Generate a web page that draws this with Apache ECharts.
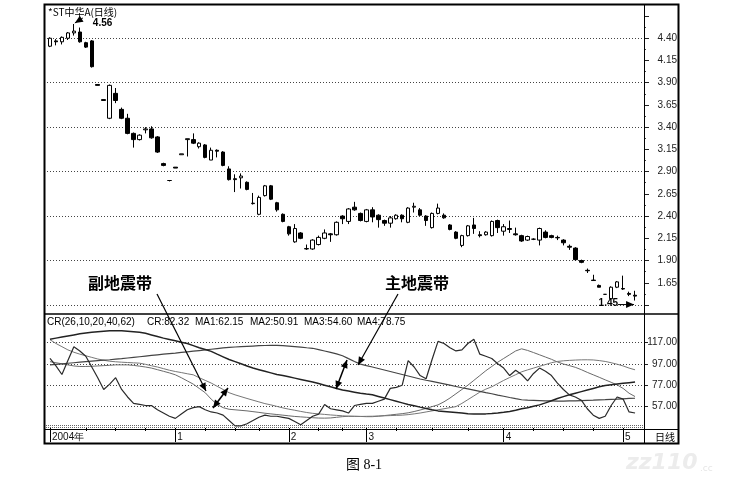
<!DOCTYPE html>
<html>
<head>
<meta charset="utf-8">
<script src="https://cdn.jsdelivr.net/npm/echarts@6/dist/echarts.min.js"></script>
<style>
html, body { margin: 0; padding: 0; background: #fff; }
#chart { width: 754px; height: 483px; }
</style>
</head>
<body>
<div id="chart"></div>
<script>
// *ST中华A 日线 + CR 指标

// 每日开盘、收盘、最低、最高（共 99 个交易日）
var openPrice = [4.31,4.37,4.36,4.40,4.46,4.47,4.35,4.37,3.88,3.71,
	3.50,3.78,3.60,3.50,3.33,3.26,3.37,3.38,3.29,2.99,
	2.80,2.95,3.09,3.26,3.26,3.18,3.20,3.03,3.14,3.12,
	2.93,2.82,2.83,2.78,2.54,2.42,2.63,2.74,2.55,2.42,
	2.28,2.11,2.21,2.03,2.03,2.08,2.15,2.20,2.19,2.40,
	2.34,2.50,2.43,2.34,2.47,2.41,2.35,2.32,2.37,2.41,
	2.33,2.50,2.47,2.40,2.27,2.43,2.41,2.30,2.22,2.07,
	2.18,2.30,2.19,2.19,2.18,2.35,2.23,2.26,2.20,2.18,
	2.13,2.14,2.13,2.22,2.18,2.16,2.13,2.06,2.04,1.90,
	1.79,1.68,1.62,1.52,1.47,1.60,1.585,1.53,1.51];
var closePrice = [4.40,4.36,4.41,4.46,4.48,4.36,4.30,4.08,3.87,3.70,
	3.87,3.70,3.50,3.33,3.26,3.31,3.38,3.28,3.12,2.97,
	2.80,2.94,3.10,3.27,3.22,3.22,3.06,3.14,3.13,2.97,
	2.81,2.81,2.85,2.70,2.545,2.61,2.74,2.59,2.47,2.34,
	2.20,2.26,2.15,2.035,2.13,2.16,2.21,2.19,2.33,2.37,
	2.48,2.47,2.35,2.47,2.39,2.36,2.32,2.38,2.41,2.37,
	2.49,2.51,2.41,2.35,2.43,2.49,2.38,2.25,2.15,2.18,
	2.29,2.26,2.18,2.22,2.34,2.27,2.28,2.25,2.19,2.12,
	2.17,2.14,2.26,2.16,2.16,2.155,2.10,2.05,1.91,1.88,
	1.785,1.675,1.60,1.52,1.60,1.66,1.58,1.52,1.50];
var lowPrice = [4.30,4.32,4.33,4.38,4.43,4.35,4.29,4.07,3.87,3.70,
	3.49,3.67,3.49,3.32,3.17,3.25,3.33,3.27,3.11,2.96,
	2.79,2.94,3.09,3.07,3.21,3.16,3.05,3.03,3.06,2.96,
	2.80,2.67,2.71,2.69,2.53,2.41,2.62,2.58,2.45,2.33,
	2.18,2.10,2.14,2.02,2.02,2.07,2.14,2.11,2.18,2.31,
	2.31,2.46,2.34,2.33,2.33,2.27,2.29,2.27,2.36,2.33,
	2.32,2.44,2.40,2.29,2.26,2.42,2.37,2.24,2.14,2.05,
	2.17,2.20,2.16,2.18,2.17,2.21,2.18,2.21,2.18,2.11,
	2.12,2.13,2.07,2.15,2.15,2.13,2.07,2.02,1.90,1.87,
	1.76,1.67,1.60,1.52,1.46,1.59,1.57,1.50,1.45];
var highPrice = [4.41,4.39,4.42,4.47,4.56,4.52,4.36,4.38,3.88,3.71,
	3.88,3.84,3.62,3.55,3.34,3.32,3.40,3.41,3.30,3.00,
	2.80,2.95,3.10,3.27,3.33,3.23,3.21,3.17,3.15,3.13,
	2.96,2.87,2.88,2.79,2.66,2.63,2.75,2.75,2.56,2.43,
	2.29,2.31,2.22,2.08,2.14,2.18,2.25,2.21,2.34,2.41,
	2.49,2.56,2.44,2.48,2.50,2.42,2.36,2.40,2.42,2.42,
	2.50,2.55,2.49,2.41,2.44,2.54,2.43,2.31,2.23,2.19,
	2.30,2.38,2.23,2.23,2.35,2.36,2.31,2.35,2.27,2.19,
	2.18,2.15,2.27,2.24,2.19,2.18,2.14,2.08,2.05,1.91,
	1.81,1.74,1.63,1.52,1.61,1.67,1.73,1.55,1.56];

// CR(26,10,20,40,62) 及其四条均线
var crValues = [102,95,87,100,113,109,104,94,84,73,
	78,84,73,66,60,59,58,58,54,51,
	48,46,50,54,56,57,54,52,51,49,
	44,39,39,41,44,47,49,48,48,47,
	46,43,40,44,48,50,59,55,54,53,
	51,58,59,60,60,62,64,74,75,77,
	100,94,86,83,101,118,116,112,109,110,
	116,120,106,104,102,97,93,86,91,87,
	81,88,93,90,86,79,73,68,66,63,
	55,49,46,48,58,66,64,52,51];
var ma1Values = [99,98,97,96,95,94.5,94.5,94.7,95,95.3,
	95.6,96,96,96,95.5,94.8,94,93,91.5,90,
	88.5,86.7,84,81,78,74,70,64,59,56,
	54.5,54,53.5,53,52.3,51.6,50.8,50.2,49.6,49,
	48.4,47.8,47.4,47,46.6,46.3,46.2,46.4,47,47.6,
	48,48,47.8,47.6,47.6,48,48.6,49.2,49.8,50.4,
	51.2,52.4,53.8,55.3,57,58.6,61.5,65,69,73,
	77,81.5,86,90.5,94.5,98.5,102,105.5,109,111,
	109.5,107.5,105.4,103.3,101.2,98.7,96.8,95.3,93.7,91.5,
	89,86.7,84.4,82,79.7,77.3,74,69.5,66.4];
var ma2Values = [119.5,116,113,110,107.8,106,104.5,103,101.5,100.3,
	99.4,98.9,98.5,98.2,97.9,97.6,96.5,95.2,94,92.5,
	91,89.8,88.8,87.7,86.7,84,81.5,79,76,73,
	70,68,66.3,64.6,63,61.4,59.8,58.6,57.2,55.8,
	54.6,53.6,52.5,51.5,50.7,50.2,49.7,49.2,48.8,48.4,
	48,47.8,47.8,47.9,48,48.2,48.4,48.6,48.8,49,
	49.5,50.2,51,52,53,54,55,56,57,60,
	63.5,67,70.5,73.3,75.5,78.5,81.5,84.2,86.8,89.5,
	91.3,93,94.7,96.3,98,99.2,99.8,100.2,100.5,100.7,
	100.75,100.6,100,99.2,98,96.6,95,93,91.4];
var ma3Values = [96,96.5,97,97.5,98,98.5,99,99.5,100,100.4,
	100.8,101.3,101.8,102.4,103,103.6,104.2,104.8,105.4,106,
	106.5,107,107.6,108.2,108.8,109.4,110,110.6,111.2,111.8,
	112.3,112.7,113,113.3,113.6,113.9,114.1,114.2,114.2,114,
	113.6,113.1,112.6,112,111.5,110.3,109,107.7,106.3,104.5,
	101.8,99.2,96.7,95.3,94,92.6,91.2,89.8,88.4,87,
	85.6,84.2,82.8,81.6,80.5,79.4,78.2,77,75.8,74.6,
	73.5,72.4,71.3,70.1,69,67.8,66.7,65.5,64.4,63.4,
	63,62.8,62.6,62.4,62.3,62.2,62.2,62.3,62.4,62.6,
	62.8,63,63.3,63.5,63.8,64,64.3,64.6,64.8];
var ma4Values = [120,121,122,123,124,125,125.8,126.5,127,127.5,
	128,128,127.8,127.4,127,126.5,125.5,124,122.5,121,
	119.8,118.5,117.2,116,114,112,110.3,108.6,106,103.5,
	101,99,97,95,93,91.5,90,88.5,87,86,
	84.8,83.6,82.4,81.2,80,78.5,77,75.5,74,72.5,
	71.5,70.5,69.5,68.7,68,66.5,65,63.5,62,60.5,
	59,57.8,56.5,55.3,54,53,52.5,52,51.5,51,
	50.4,50,50,50.2,50.5,51,51.7,52.5,53.5,55,
	56,57.3,58.6,60.5,62.5,64.5,66.3,68,69.5,71,
	72.5,74,75.5,76.7,77.5,78.2,78.8,79.4,80];

// 时间轴：月份刻度与周刻度（交易日序号）
var monthTickIdx = [0, 21, 40, 53, 76, 96];
var monthTickText = ["2004年", "1", "2", "3", "4", "5"];
var weekTickIdx = [6, 11, 16, 26, 31, 35, 45, 49, 58, 64, 70, 81, 86, 91];

// 指标标题
var crTitle = ["CR(26,10,20,40,62)", "CR:82.32", "MA1:62.15",
	"MA2:50.91", "MA3:54.60", "MA4:78.75"];

var FONT = '"Liberation Sans", Arial, sans-serif';
var CJK = '"Noto Sans CJK SC", sans-serif';

// 类目：99 个交易日 + 右侧留一空位
var categories = [];
for (var i = 0; i < openPrice.length + 1; i++)
	categories.push(String(i));

var candleData = openPrice.map(function (o, i) {
	return [o, closePrice[i], lowPrice[i], highPrice[i]];
});

var dotted = { type: [1, 2], color: "#444", width: 1 };

var chart = echarts.init(document.getElementById("chart"));

var option = {
	backgroundColor: "#fff",
	animation: false,
	grid: [
		{ left: 47, top: 16, width: 597, height: 289 },
		{ left: 47, top: 321, width: 597, height: 107 }
	],
	xAxis: [
		{
			type: "category", gridIndex: 0, data: categories,
			axisLine: { show: false }, axisTick: { show: false },
			axisLabel: { show: false }, splitLine: { show: false }
		},
		{
			type: "category", gridIndex: 1, data: categories, position: "bottom",
			axisLine: { show: false },
			axisTick: {
				show: true, alignWithLabel: true, length: 14,
				interval: function (idx) { return monthTickIdx.indexOf(idx) >= 0; },
				lineStyle: { color: "#000", width: 1 }
			},
			axisLabel: {
				interval: function (idx) { return monthTickIdx.indexOf(idx) >= 0; },
				formatter: function (v, idx) {
					var k = monthTickIdx.indexOf(idx);
					return k >= 0 ? monthTickText[k] : "";
				},
				align: "left", padding: [0, 0, 0, 2], margin: 4,
				fontFamily: FONT, fontSize: 10, color: "#111"
			}
		},
		{
			// 周刻度，与月份轴同在底部
			type: "category", gridIndex: 1, data: categories, position: "bottom",
			axisLine: { show: false },
			axisTick: {
				show: true, alignWithLabel: true, length: 3,
				interval: function (idx) { return weekTickIdx.indexOf(idx) >= 0; },
				lineStyle: { color: "#000", width: 1 }
			},
			axisLabel: { show: false }
		}
	],
	yAxis: [
		{
			type: "value", gridIndex: 0, position: "right",
			min: 1.40, max: 4.65, interval: 0.25,
			axisLine: { show: false },
			axisTick: { show: true, length: 5, lineStyle: { color: "#222" } },
			minorTick: { show: true, splitNumber: 2, length: 2, lineStyle: { color: "#444" } },
			splitLine: { show: false },
			axisLabel: {
				formatter: function (v) { return v.toFixed(2); },
				showMinLabel: false, showMaxLabel: false,
				align: "right", margin: 33,
				fontFamily: FONT, fontSize: 10, color: "#222"
			}
		},
		{
			type: "value", gridIndex: 0, position: "right",
			min: 1.40, max: 4.65, interval: 0.5,
			axisLine: { show: false }, axisTick: { show: false },
			axisLabel: { show: false },
			splitLine: { show: true, showMinLine: true, showMaxLine: false, lineStyle: dotted }
		},
		{
			type: "value", gridIndex: 1, position: "right",
			min: 37, max: 137, interval: 20,
			axisLine: { show: false },
			axisTick: { show: true, length: 4, lineStyle: { color: "#222" } },
			splitLine: { show: true, showMinLine: false, showMaxLine: false, lineStyle: dotted },
			axisLabel: {
				formatter: function (v) { return v.toFixed(2); },
				showMinLabel: false, showMaxLabel: false,
				align: "right", margin: 33,
				fontFamily: FONT, fontSize: 10, color: "#222"
			}
		}
	],
	series: [
		{
			type: "candlestick", xAxisIndex: 0, yAxisIndex: 0,
			data: candleData, barWidth: 4, silent: true,
			itemStyle: {
				color: "#fff", color0: "#000",
				borderColor: "#000", borderColor0: "#000", borderWidth: 1
			}
		},
		{ type: "line", name: "MA1", xAxisIndex: 1, yAxisIndex: 2, data: ma1Values,
		  symbol: "none", silent: true, lineStyle: { color: "#6a6a6a", width: 1 } },
		{ type: "line", name: "MA2", xAxisIndex: 1, yAxisIndex: 2, data: ma2Values,
		  symbol: "none", silent: true, lineStyle: { color: "#777", width: 1 } },
		{ type: "line", name: "MA3", xAxisIndex: 1, yAxisIndex: 2, data: ma3Values,
		  symbol: "none", silent: true, lineStyle: { color: "#444", width: 1.2 } },
		{ type: "line", name: "MA4", xAxisIndex: 1, yAxisIndex: 2, data: ma4Values,
		  symbol: "none", silent: true, lineStyle: { color: "#222", width: 1.5 } },
		{ type: "line", name: "CR", xAxisIndex: 1, yAxisIndex: 2, data: crValues,
		  symbol: "none", silent: true, lineStyle: { color: "#2a2a2a", width: 1.2 } }
	]
};

chart.setOption(option);

// 箭头：线段加实心三角
function arrowHead(xa, ya, xb, yb) {
	var a = Math.atan2(yb - ya, xb - xa), L = 8, W = 3.5;
	var bx = xb - L * Math.cos(a), by = yb - L * Math.sin(a);
	return {
		type: "polygon", z: 50,
		shape: { points: [[xb, yb],
			[bx - W * Math.sin(a), by + W * Math.cos(a)],
			[bx + W * Math.sin(a), by - W * Math.cos(a)]] },
		style: { fill: "#000" }
	};
}
function arrow(x1, y1, x2, y2, both, w) {
	var els = [{ type: "line", z: 50, shape: { x1: x1, y1: y1, x2: x2, y2: y2 },
		style: { stroke: "#000", lineWidth: w || 1.2 } }];
	els.push(arrowHead(x1, y1, x2, y2));
	if (both) els.push(arrowHead(x2, y2, x1, y1));
	return els;
}
function label(text, x, y, font, align, fill) {
	return { type: "text", z: 60, style: { text: text, x: x, y: y, font: font,
		textAlign: align || "left", textVerticalAlign: "middle", fill: fill || "#000" } };
}

var g = [];
// 外框与分隔线
g.push({ type: "rect", z: 100, shape: { x: 44.5, y: 4.5, width: 634, height: 439 },
	style: { fill: "none", stroke: "#000", lineWidth: 2 } });
g.push({ type: "line", z: 100, shape: { x1: 644.5, y1: 4, x2: 644.5, y2: 444 },
	style: { stroke: "#000", lineWidth: 1 } });
g.push({ type: "line", z: 100, shape: { x1: 44, y1: 314, x2: 679, y2: 314 },
	style: { stroke: "#000", lineWidth: 1.5 } });
g.push({ type: "line", z: 1, shape: { x1: 46, y1: 425.5, x2: 644, y2: 425.5 },
	style: { stroke: "#666", lineWidth: 1, lineDash: [1, 1] } });
g.push({ type: "line", z: 1, shape: { x1: 46, y1: 427.5, x2: 644, y2: 427.5 },
	style: { stroke: "#666", lineWidth: 1, lineDash: [1, 1] } });
g.push({ type: "line", z: 100, shape: { x1: 44, y1: 429.5, x2: 679, y2: 429.5 },
	style: { stroke: "#000", lineWidth: 1 } });

// 标题与指标说明
g.push(label("*ST中华A(日线)", 48, 12, "10px " + CJK));
var crX = [47, 147, 195, 250, 304, 357];
crTitle.forEach(function (t, k) { g.push(label(t, crX[k], 322, "10px " + FONT)); });
g.push(label("日线", 655, 437, "10px " + CJK));

// 最高价、最低价标注
var hiIdx = highPrice.indexOf(Math.max.apply(null, highPrice));
var loIdx = lowPrice.indexOf(Math.min.apply(null, lowPrice));
var hp = chart.convertToPixel({ xAxisIndex: 0, yAxisIndex: 0 }, [hiIdx, highPrice[hiIdx]]);
var lp = chart.convertToPixel({ xAxisIndex: 0, yAxisIndex: 0 }, [loIdx, lowPrice[loIdx]]);
g.push(label(highPrice[hiIdx].toFixed(2), hp[0] + 19, hp[1] - 0.5, "bold 10px " + FONT));
g = g.concat(arrow(hp[0] + 9, hp[1] - 6, hp[0] + 1, hp[1] - 1, false, 1));
g.push(label(lowPrice[loIdx].toFixed(2), lp[0] - 17, lp[1] + 3, "bold 10px " + FONT, "right"));
g = g.concat(arrow(lp[0] - 17, lp[1] + 4, lp[0] - 1, lp[1] + 4, false, 1));

// 地震带注释
g.push(label("副地震带", 88, 283, "bold 16px " + CJK));
g.push(label("主地震带", 385, 283, "bold 16px " + CJK));
g = g.concat(arrow(157, 294, 206, 391, false));
g = g.concat(arrow(213, 408, 228, 388, true, 1.5));
g = g.concat(arrow(398, 294, 358, 365, false));
g = g.concat(arrow(336, 389, 347, 360, true, 1.5));

// 图号与水印
g.push(label("图 8-1", 364, 465, '14px "Liberation Serif", "Noto Sans CJK SC", serif', "center"));
g.push(label("zz110", 626, 463, 'italic bold 22px "DejaVu Sans", sans-serif', "left", "#ececec"));
g.push(label(".cc", 700, 469, '9px "DejaVu Sans", sans-serif', "left", "#e6e6e6"));

chart.setOption({ graphic: { elements: g } });
window.addEventListener("resize", chart.resize);
</script>
</body>
</html>
